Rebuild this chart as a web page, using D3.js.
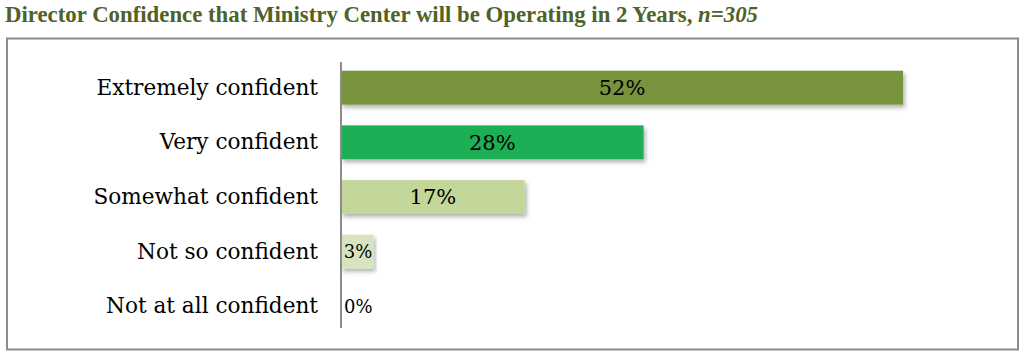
<!DOCTYPE html>
<html><head><meta charset="utf-8">
<script src="https://cdn.jsdelivr.net/npm/d3@7"></script>
<style>body{margin:0;background:#fff;}svg{display:block;}</style>
</head><body>
<script>
const categories = ["Extremely confident","Very confident","Somewhat confident","Not so confident","Not at all confident"];
const values = [52, 28, 17, 3, 0];
const labels = ["52%","28%","17%","3%","0%"];
const colors = ["#77933c","#1aaf54","#c4d79b","#d7e4bd","#d7e4bd"];

const W = 1024, H = 355;
const svg = d3.select("body").append("svg").attr("width", W).attr("height", H);
const defs = svg.append("defs");
const f = defs.append("filter").attr("id","sh").attr("x","-5%").attr("y","-20%").attr("width","115%").attr("height","160%");
f.append("feDropShadow").attr("dx",2).attr("dy",3).attr("stdDeviation",2).attr("flood-color","#000").attr("flood-opacity",0.3);

// title
const t = svg.append("text").attr("x",5).attr("y",22)
  .attr("font-family","Liberation Serif, serif").attr("font-weight","bold")
  .attr("font-size",22.8).attr("fill","#4f6228");
t.append("tspan").text("Director Confidence that Ministry Center will be Operating in 2 Years, ");
t.append("tspan").attr("font-style","italic").text("n=305");

// frame
svg.append("rect").attr("x",7).attr("y",38.5).attr("width",1011).attr("height",311)
  .attr("fill","none").attr("stroke","#8c8c8c").attr("stroke-width",2);

const x0 = 341;
const x = d3.scaleLinear().domain([0,52]).range([x0, 903]);
const y = d3.scaleBand().domain(categories).range([62, 332]).paddingInner(0.38).paddingOuter(0.16);

const g = svg.append("g");
g.selectAll("rect.bar").data(values).enter().append("rect").attr("class","bar")
  .attr("x", x0).attr("y",(d,i)=>y(categories[i]))
  .attr("width", d=>x(d)-x0).attr("height", y.bandwidth())
  .attr("fill",(d,i)=>colors[i])
  .attr("filter", d=> d>0 ? "url(#sh)" : null);

const yAxis = d3.axisLeft(y).tickSize(0).tickPadding(23);
const ax = svg.append("g").attr("transform",`translate(${x0},0)`).call(yAxis);
ax.select(".domain").remove();
ax.selectAll("text").attr("font-family","DejaVu Serif, serif").attr("font-size",21.6).attr("fill","#000");
svg.append("line").attr("x1",x0).attr("x2",x0).attr("y1",62).attr("y2",328)
  .attr("stroke","#8c8c8c").attr("stroke-width",2);

g.selectAll("text.val").data(values).enter().append("text").attr("class","val")
  .attr("x",(d,i)=> d>=10 ? (x0 + x(d))/2 : x(d) + (d>0 ? -1 : 3))
  .attr("text-anchor",(d)=> d>=10 ? "middle" : (d>0 ? "end" : "start"))
  .attr("y",(d,i)=>y(categories[i]) + y.bandwidth()/2)
  .attr("dy","0.35em")
  .attr("font-family","DejaVu Serif, serif")
  .attr("font-size",(d)=> d>=10 ? 21 : 18)
  .attr("fill","#000")
  .text((d,i)=>labels[i]);
</script>
</body></html>
